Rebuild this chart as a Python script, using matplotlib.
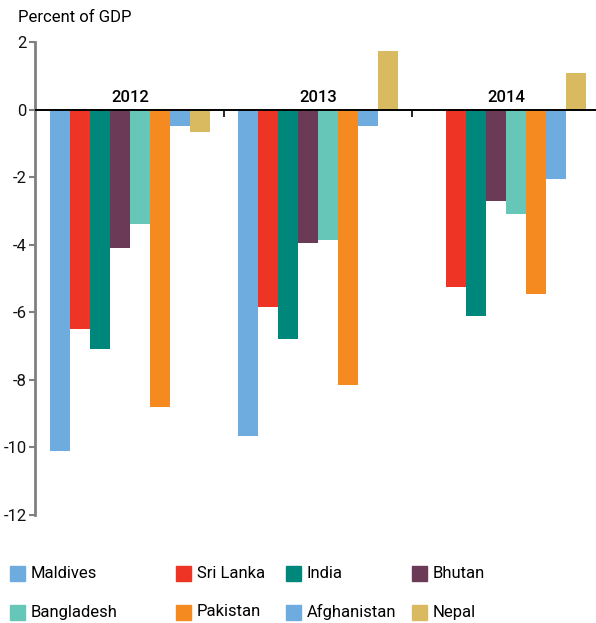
import numpy as np
import matplotlib.pyplot as plt
from matplotlib.patches import Rectangle

years = ["2012", "2013", "2014"]
countries = ["Maldives", "Sri Lanka", "India", "Bhutan",
             "Bangladesh", "Pakistan", "Afghanistan", "Nepal"]
colors = ["#6EACDF", "#EE3424", "#00877B", "#6B3A56",
          "#66C6B8", "#F58A21", "#6EACDF", "#D9BA60"]

# percent of GDP, one list per country (2012, 2013, 2014)
maldives = [-10.1, -9.65, np.nan]
sri_lanka = [-6.5, -5.85, -5.25]
india = [-7.1, -6.8, -6.1]
bhutan = [-4.1, -3.95, -2.7]
bangladesh = [-3.4, -3.85, -3.1]
pakistan = [-8.8, -8.15, -5.45]
afghanistan = [-0.5, -0.5, -2.05]
nepal = [-0.65, 1.72, 1.08]
values = [maldives, sri_lanka, india, bhutan,
          bangladesh, pakistan, afghanistan, nepal]

plt.rcParams["font.family"] = ["Roboto", "DejaVu Sans"]
plt.rcParams["axes.unicode_minus"] = False

fig = plt.figure(figsize=(5.96, 6.23), dpi=100)
ax = fig.add_axes([35 / 596, 1 - 515 / 623, 0.948, 473 / 623])

x = np.arange(len(years))
w = 20 / 188
for i, (name, vals) in enumerate(zip(countries, values)):
    ax.bar(x + (i - 3.5) * w, vals, width=w, color=colors[i], edgecolor="none")

ax.axhline(0, color="black", lw=1.4, zorder=3)
ax.vlines([0.5, 1.5], -0.22, 0, color="black", lw=1.2, zorder=3)
for xi, yr in zip(x, years):
    ax.text(xi, 0.15, yr, ha="center", va="bottom", fontsize=12,
            fontweight="medium", color="black")

ax.set_xlim(-0.505, 2.5)
ax.set_ylim(-12, 2)
ax.set_yticks(range(-12, 3, 2))
ax.set_xticks([])
for s in ["top", "right", "bottom"]:
    ax.spines[s].set_visible(False)
ax.spines["left"].set_color("#808080")
ax.spines["left"].set_linewidth(2)
ax.tick_params(axis="y", length=4, width=1.5, color="#808080",
               labelsize=12, labelcolor="#111111", pad=2)

fig.text(18 / 596, 1 - 18 / 623, "Percent of GDP", fontsize=12,
         ha="left", va="center")

# legend laid out in two rows of four
col_x = [10, 176, 286, 412]
row_y = [573, 612]
for k, (name, c) in enumerate(zip(countries, colors)):
    px = col_x[k % 4]
    py = row_y[k // 4]
    fig.add_artist(Rectangle((px / 596, 1 - (py + 8) / 623), 15 / 596, 15 / 623,
                             transform=fig.transFigure, color=c))
    fig.text((px + 21) / 596, 1 - py / 623, name, fontsize=12,
             ha="left", va="center")

fig.savefig("out.png", dpi=100)
